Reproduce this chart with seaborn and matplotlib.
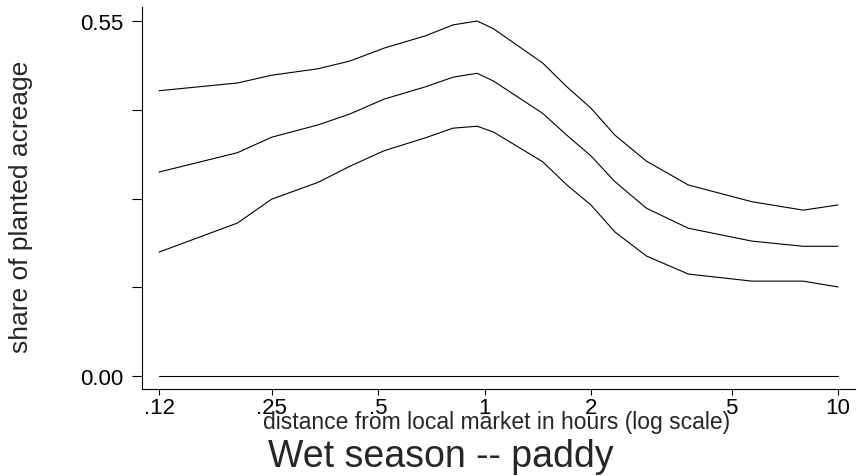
import numpy as np
import pandas as pd
import matplotlib
matplotlib.use("Agg")
import matplotlib.pyplot as plt
import seaborn as sns

# distance from local market (hours) and the three curves
distance = [0.12, 0.20, 0.25, 0.338, 0.416, 0.52, 0.68, 0.815, 0.953, 1.06,
            1.46, 1.71, 2.0, 2.34, 2.87, 3.77, 5.71, 7.97, 10.0]
upper = [0.442, 0.454, 0.466, 0.476, 0.488, 0.508, 0.527, 0.544, 0.550, 0.538,
         0.485, 0.448, 0.415, 0.373, 0.333, 0.296, 0.270, 0.257, 0.265]
middle = [0.316, 0.346, 0.370, 0.389, 0.406, 0.429, 0.448, 0.463, 0.469, 0.457,
          0.407, 0.373, 0.341, 0.301, 0.260, 0.229, 0.209, 0.201, 0.201]
lower = [0.192, 0.237, 0.274, 0.300, 0.325, 0.349, 0.369, 0.384, 0.387, 0.378,
         0.332, 0.296, 0.265, 0.223, 0.186, 0.158, 0.147, 0.147, 0.138]
zero = [0.0] * len(distance)

xticks = [0.12, 0.25, 0.5, 1, 2, 5, 10]
xtick_labels = ['.12', '.25', '.5', '1', '2', '5', '10']
yticks = [0, 0.1375, 0.275, 0.4125, 0.55]
ytick_labels = ['0.00', '', '', '', '0.55']

df = pd.DataFrame({'dist': distance, 'upper': upper, 'middle': middle,
                   'lower': lower, 'zero': zero})

sns.set_style("white")
plt.rcParams['font.family'] = ['Liberation Sans', 'DejaVu Sans']

fig = plt.figure(figsize=(8.57, 4.77), dpi=100)
ax = fig.add_axes([142/857, 1 - 390/477, 713/857, 382/477])

for col in ['upper', 'middle', 'lower', 'zero']:
    sns.lineplot(data=df, x='dist', y=col, color='black', linewidth=0.8, ax=ax)

ax.set_xscale('log')
ax.set_xlim(0.1074, 11.17)
ax.set_ylim(-0.0201, 0.5717)
ax.set_xticks(xticks)
ax.set_xticklabels(xtick_labels)
ax.minorticks_off()
ax.set_yticks(yticks)
ax.set_yticklabels(ytick_labels)

ax.tick_params(axis='x', direction='out', length=4.3, width=0.8, pad=1.2,
               labelsize=16, colors='black', bottom=True)
ax.tick_params(axis='y', direction='out', length=7.2, width=0.8, pad=6.5,
               labelsize=16, colors='black', left=True)

for side in ['top', 'right']:
    ax.spines[side].set_visible(False)
for side in ['left', 'bottom']:
    ax.spines[side].set_color('black')
    ax.spines[side].set_linewidth(0.8)

ax.set_ylabel('share of planted acreage', fontsize=19)
ax.yaxis.set_label_coords(-0.153, 0.48)
ax.set_xlabel('')
fig.text(497/857, 1 - 429/477, 'distance from local market in hours (log scale)',
         ha='center', va='baseline', fontsize=16.5)

fig.text(441/857, 1 - 467/477, 'Wet season -- paddy', ha='center',
         va='baseline', fontsize=27)

fig.savefig('out.png', dpi=100)
